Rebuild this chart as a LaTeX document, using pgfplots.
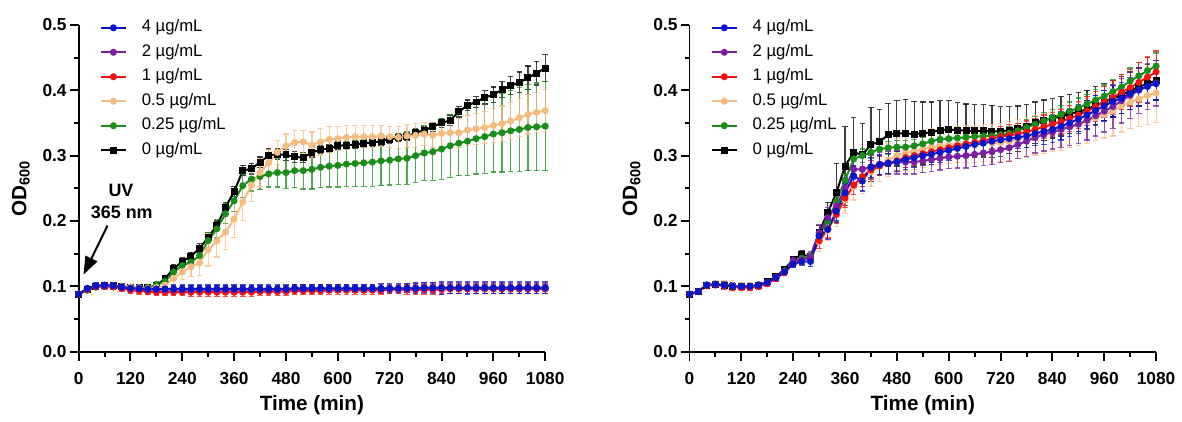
\documentclass[border=0pt]{standalone}
\usepackage{fontspec}
\setmainfont{Liberation Sans}
\usepackage{pgfplots}
\pgfplotsset{compat=1.18}
\usepackage{pgfplotstable}
\usetikzlibrary{arrows.meta}

\definecolor{cB}{HTML}{0A14C8}
\definecolor{cP}{HTML}{7A1FA2}
\definecolor{cR}{HTML}{F21212}
\definecolor{cO}{HTML}{F5BC82}
\definecolor{cG}{HTML}{1A8C1A}
\definecolor{cK}{HTML}{000000}

% columns: time, then mean and error for 4, 2, 1, 0.5, 0.25, 0 ug/mL
\pgfplotstableread{
t    b    be   p    pe   r    re   o    oe   g    ge   k    ke
0    .088 .002 .088 .002 .088 .002 .088 .002 .088 .002 .088 .002
20   .097 .003 .096 .003 .095 .003 .095 .003 .094 .003 .095 .003
40   .101 .004 .100 .004 .099 .004 .100 .004 .099 .004 .100 .004
60   .102 .004 .101 .004 .100 .004 .101 .004 .100 .004 .101 .004
80   .101 .004 .101 .004 .099 .004 .101 .004 .100 .004 .101 .004
100  .099 .004 .099 .004 .097 .004 .100 .004 .099 .004 .100 .004
120  .097 .005 .097 .005 .094 .005 .099 .004 .098 .004 .099 .004
140  .097 .005 .096 .005 .093 .005 .098 .004 .098 .004 .098 .004
160  .096 .005 .095 .005 .092 .005 .097 .004 .098 .005 .098 .004
180  .096 .005 .095 .005 .091 .005 .098 .005 .102 .006 .101 .005
200  .096 .006 .095 .006 .091 .005 .102 .008 .108 .006 .112 .005
220  .096 .006 .095 .006 .091 .005 .112 .010 .122 .008 .127 .006
240  .096 .006 .095 .006 .091 .005 .122 .012 .132 .010 .138 .006
260  .096 .006 .095 .006 .091 .006 .130 .015 .137 .010 .146 .006
280  .096 .006 .095 .006 .091 .006 .136 .020 .147 .010 .158 .007
300  .096 .006 .095 .006 .091 .006 .156 .025 .170 .012 .175 .007
320  .096 .006 .095 .006 .091 .006 .170 .025 .188 .014 .193 .007
340  .096 .006 .095 .006 .091 .006 .183 .027 .211 .015 .221 .007
360  .096 .006 .095 .006 .091 .006 .203 .028 .231 .016 .245 .008
380  .096 .006 .095 .006 .091 .006 .229 .028 .254 .018 .277 .008
400  .096 .006 .095 .006 .091 .006 .255 .025 .264 .018 .280 .008
420  .096 .006 .095 .006 .092 .006 .274 .022 .268 .020 .290 .008
440  .096 .006 .095 .006 .092 .006 .289 .020 .272 .020 .300 .010
460  .096 .006 .095 .006 .092 .006 .305 .018 .274 .022 .302 .008
480  .096 .006 .095 .006 .092 .006 .315 .018 .274 .024 .301 .008
500  .097 .006 .096 .006 .093 .006 .320 .018 .277 .026 .298 .008
520  .097 .006 .096 .006 .093 .006 .321 .018 .277 .028 .297 .008
540  .097 .006 .096 .006 .093 .006 .316 .020 .279 .030 .305 .007
560  .097 .006 .096 .006 .093 .006 .321 .020 .282 .031 .309 .006
580  .097 .006 .096 .006 .094 .006 .325 .020 .284 .032 .311 .006
600  .097 .006 .096 .006 .094 .006 .326 .018 .285 .033 .315 .006
620  .097 .006 .096 .006 .094 .006 .328 .018 .287 .034 .316 .006
640  .097 .006 .096 .006 .094 .006 .329 .017 .288 .035 .317 .006
660  .097 .006 .096 .006 .094 .006 .329 .017 .289 .036 .319 .006
680  .097 .006 .096 .006 .094 .006 .329 .017 .290 .037 .320 .006
700  .097 .007 .096 .007 .094 .006 .330 .016 .292 .038 .322 .006
720  .097 .007 .096 .007 .095 .006 .329 .016 .293 .038 .325 .006
740  .097 .007 .096 .007 .095 .006 .328 .017 .295 .039 .327 .006
760  .097 .007 .097 .007 .095 .007 .330 .017 .296 .040 .329 .006
780  .097 .008 .097 .007 .095 .007 .331 .018 .300 .041 .335 .006
800  .098 .008 .097 .008 .095 .007 .333 .018 .304 .042 .339 .006
820  .098 .008 .097 .008 .095 .007 .331 .019 .306 .044 .344 .007
840  .098 .010 .097 .008 .095 .007 .334 .020 .310 .046 .350 .007
860  .098 .009 .097 .008 .096 .007 .335 .021 .315 .048 .354 .008
880  .098 .009 .097 .008 .096 .007 .335 .022 .319 .050 .367 .008
900  .098 .010 .097 .008 .096 .007 .339 .023 .322 .052 .377 .008
920  .098 .009 .097 .008 .096 .007 .341 .024 .326 .054 .382 .008
940  .098 .009 .097 .008 .096 .007 .343 .025 .329 .056 .389 .010
960  .098 .009 .097 .008 .096 .007 .346 .026 .333 .058 .393 .012
980  .098 .009 .097 .008 .096 .007 .349 .027 .335 .060 .401 .012
1000 .098 .009 .097 .008 .096 .007 .353 .028 .338 .062 .407 .014
1020 .098 .009 .097 .008 .096 .007 .358 .029 .340 .064 .412 .016
1040 .098 .009 .097 .008 .096 .007 .363 .030 .343 .066 .419 .018
1060 .098 .009 .097 .008 .096 .007 .366 .031 .344 .067 .426 .018
1080 .098 .009 .097 .008 .096 .007 .369 .032 .345 .068 .434 .021
}\leftdata

\pgfplotstableread{
t    b    be   p    pe   r    re   o    oe   g    ge   k    ke
0    .088 .002 .088 .002 .088 .002 .088 .002 .088 .002 .088 .002
20   .092 .003 .092 .003 .092 .003 .092 .003 .092 .003 .092 .003
40   .102 .003 .102 .003 .101 .003 .102 .004 .102 .003 .102 .003
60   .103 .004 .103 .004 .102 .004 .104 .005 .103 .004 .103 .004
80   .102 .005 .102 .005 .101 .005 .103 .006 .102 .005 .102 .005
100  .100 .005 .100 .005 .099 .005 .101 .008 .100 .005 .100 .005
120  .100 .004 .100 .004 .098 .004 .100 .005 .100 .004 .100 .004
140  .100 .004 .100 .004 .098 .004 .100 .005 .100 .004 .100 .004
160  .102 .004 .102 .004 .100 .004 .102 .005 .102 .004 .102 .004
180  .106 .004 .106 .004 .104 .004 .106 .005 .106 .004 .107 .004
200  .113 .004 .114 .004 .112 .004 .113 .005 .114 .004 .115 .004
220  .122 .004 .123 .004 .121 .004 .122 .005 .124 .004 .126 .004
240  .134 .005 .140 .005 .136 .005 .137 .006 .138 .005 .141 .005
260  .138 .006 .140 .006 .140 .006 .141 .006 .143 .005 .149 .005
280  .138 .008 .145 .008 .144 .006 .146 .006 .146 .005 .145 .005
300  .177 .010 .182 .012 .170 .012 .168 .015 .178 .008 .183 .010
320  .187 .015 .205 .016 .188 .014 .185 .015 .200 .010 .213 .015
340  .215 .015 .223 .016 .210 .014 .210 .018 .230 .010 .243 .045
360  .243 .015 .250 .016 .235 .014 .232 .020 .262 .010 .284 .060
380  .269 .015 .279 .016 .255 .015 .252 .020 .295 .010 .305 .053
400  .261 .015 .279 .018 .268 .015 .262 .020 .300 .010 .301 .048
420  .282 .015 .283 .018 .278 .015 .275 .022 .305 .010 .317 .056
440  .286 .015 .287 .018 .284 .015 .285 .024 .310 .010 .321 .050
460  .288 .015 .289 .018 .288 .015 .293 .025 .312 .010 .332 .048
480  .291 .015 .290 .018 .292 .015 .300 .026 .313 .010 .334 .050
500  .294 .015 .290 .018 .297 .015 .304 .027 .313 .010 .334 .052
520  .297 .015 .290 .018 .300 .015 .307 .028 .315 .010 .333 .050
540  .300 .015 .292 .018 .303 .015 .310 .028 .318 .010 .334 .048
560  .302 .015 .294 .018 .306 .015 .313 .028 .322 .010 .336 .046
580  .305 .015 .296 .018 .309 .015 .315 .028 .325 .010 .339 .045
600  .308 .015 .298 .018 .312 .015 .316 .028 .326 .010 .340 .044
620  .311 .015 .299 .018 .315 .015 .317 .028 .327 .010 .339 .042
640  .314 .015 .300 .019 .318 .015 .318 .028 .328 .010 .338 .041
660  .317 .015 .302 .019 .320 .015 .318 .028 .329 .010 .338 .040
680  .319 .015 .304 .019 .323 .015 .319 .028 .330 .010 .338 .040
700  .322 .015 .306 .020 .326 .015 .319 .029 .330 .010 .337 .040
720  .324 .016 .309 .020 .329 .016 .320 .029 .332 .010 .337 .038
740  .326 .016 .312 .021 .331 .016 .322 .030 .334 .011 .339 .036
760  .328 .017 .317 .022 .333 .016 .325 .030 .338 .011 .341 .035
780  .330 .018 .322 .023 .336 .017 .328 .030 .343 .012 .345 .033
800  .334 .019 .328 .024 .340 .017 .331 .030 .348 .012 .350 .032
820  .337 .020 .332 .025 .344 .018 .334 .031 .353 .013 .354 .031
840  .340 .020 .336 .026 .348 .018 .337 .031 .358 .013 .357 .030
860  .345 .021 .340 .027 .352 .019 .340 .032 .363 .014 .360 .030
880  .350 .021 .344 .028 .357 .020 .344 .032 .368 .014 .364 .030
900  .356 .022 .348 .029 .362 .021 .348 .033 .373 .015 .367 .030
920  .362 .022 .354 .030 .368 .022 .353 .034 .379 .015 .371 .029
940  .369 .023 .361 .031 .375 .023 .358 .035 .385 .016 .377 .029
960  .376 .023 .368 .032 .382 .024 .363 .036 .391 .017 .382 .028
980  .383 .024 .375 .033 .389 .026 .368 .038 .398 .018 .387 .028
1000 .388 .024 .384 .034 .397 .027 .376 .040 .405 .019 .393 .028
1020 .395 .025 .392 .035 .404 .028 .382 .041 .414 .020 .399 .029
1040 .401 .025 .400 .035 .412 .030 .387 .043 .422 .020 .405 .029
1060 .406 .025 .406 .035 .420 .031 .392 .044 .430 .020 .410 .030
1080 .410 .025 .411 .035 .428 .032 .396 .045 .437 .020 .415 .030
}\rightdata

\pgfplotsset{
  panel/.style={
    scale only axis, width=234.5pt, height=164.25pt,
    xmin=0, xmax=1080, ymin=0, ymax=0.5, clip=false,
    axis x line*=bottom, axis y line*=left,
    axis line style={line width=1pt},
    xtick={0,120,240,360,480,600,720,840,960,1080},
    minor xtick={60,180,300,420,540,660,780,900,1020},
    ytick={0,0.1,0.2,0.3,0.4,0.5},
    minor ytick={0.05,0.15,0.25,0.35,0.45},
    tick align=outside, major tick length=4.5pt, minor tick length=2.5pt,
    every tick/.style={black, line width=1pt},
    /pgf/number format/assume math mode=true,
    /pgf/number format/1000 sep={},
    tick label style={font=\bfseries\fontsize{8.7}{10}\selectfont},
    yticklabel style={/pgf/number format/.cd, fixed, fixed zerofill, precision=1, /tikz/.cd, xshift=2pt},
    xticklabel style={yshift=-2.5pt},
    xlabel={Time (min)},
    ylabel={OD\textsubscript{600}},
    label style={font=\bfseries\fontsize{10.4}{12}\selectfont},
    xlabel style={at={(axis description cs:0.5,-0.163)}, anchor=center},
    ylabel style={at={(axis description cs:-0.124,0.5)}, anchor=center},
    legend style={draw=none, fill=none, at={(0.045,1.016)}, anchor=north west,
      font=\fontsize{8.4}{9}\selectfont, row sep=4.5pt, column sep=7.5pt,
      inner sep=0pt, nodes={inner sep=0pt, text height=6pt, text depth=1.8pt}},
    legend cell align=left,
    legend image code/.code={\draw[mark repeat=2,mark phase=2,#1] plot coordinates {(0pt,0pt) (6.25pt,0pt) (12.5pt,0pt)};},
  },
  ser/.style={line width=1pt, mark size=1.25pt, mark options={solid},
    error bars/y dir=both, error bars/y explicit,
    error bars/error bar style={line width=0.6pt, opacity=0.75},
    error bars/error mark options={rotate=90, mark size=1.4pt, line width=0.6pt, opacity=0.75}},
  leg/.style={line width=1pt, mark size=1.25pt},
}

\begin{document}
\begin{tikzpicture}
\path (-39.5pt,-30.25pt) rectangle (551.5pt,176.75pt);

\begin{axis}[panel, at={(0pt,0pt)}, anchor=south west]
\addlegendimage{leg, color=cB, mark=*}\addlegendentry{4 µg/mL}
\addlegendimage{leg, color=cP, mark=*}\addlegendentry{2 µg/mL}
\addlegendimage{leg, color=cR, mark=*}\addlegendentry{1 µg/mL}
\addlegendimage{leg, color=cO, mark=*}\addlegendentry{0.5 µg/mL}
\addlegendimage{leg, color=cG, mark=*}\addlegendentry{0.25 µg/mL}
\addlegendimage{leg, color=cK, mark=square*}\addlegendentry{0 µg/mL}
\addplot[ser, color=cK, mark=square*, forget plot] table[x=t, y=k, y error=ke] {\leftdata};
\addplot[ser, color=cG, mark=*, forget plot] table[x=t, y=g, y error=ge] {\leftdata};
\addplot[ser, color=cO, mark=*, forget plot] table[x=t, y=o, y error=oe] {\leftdata};
\addplot[ser, color=cR, mark=*, forget plot] table[x=t, y=r, y error=re] {\leftdata};
\addplot[ser, color=cP, mark=*, forget plot] table[x=t, y=p, y error=pe] {\leftdata};
\addplot[ser, color=cB, mark=*, forget plot] table[x=t, y=b, y error=be] {\leftdata};
\node[font=\bfseries\fontsize{9}{10}\selectfont] at (axis cs:98,0.2466) {UV};
\node[font=\bfseries\fontsize{9}{10}\selectfont] at (axis cs:100,0.213) {365 nm};
\draw[line width=1pt, -{Triangle[length=9pt,width=6.5pt]}] (axis cs:67,0.193) -- (axis cs:11.5,0.118);
\end{axis}

\begin{axis}[panel, at={(307pt,0pt)}, anchor=south west]
\addlegendimage{leg, color=cB, mark=*}\addlegendentry{4 µg/mL}
\addlegendimage{leg, color=cP, mark=*}\addlegendentry{2 µg/mL}
\addlegendimage{leg, color=cR, mark=*}\addlegendentry{1 µg/mL}
\addlegendimage{leg, color=cO, mark=*}\addlegendentry{0.5 µg/mL}
\addlegendimage{leg, color=cG, mark=*}\addlegendentry{0.25 µg/mL}
\addlegendimage{leg, color=cK, mark=square*}\addlegendentry{0 µg/mL}
\addplot[ser, color=cK, mark=square*, forget plot] table[x=t, y=k, y error=ke] {\rightdata};
\addplot[ser, color=cO, mark=*, forget plot] table[x=t, y=o, y error=oe] {\rightdata};
\addplot[ser, color=cG, mark=*, forget plot] table[x=t, y=g, y error=ge] {\rightdata};
\addplot[ser, color=cR, mark=*, forget plot] table[x=t, y=r, y error=re] {\rightdata};
\addplot[ser, color=cP, mark=*, forget plot] table[x=t, y=p, y error=pe] {\rightdata};
\addplot[ser, color=cB, mark=*, forget plot] table[x=t, y=b, y error=be] {\rightdata};
\end{axis}
\end{tikzpicture}
\end{document}
